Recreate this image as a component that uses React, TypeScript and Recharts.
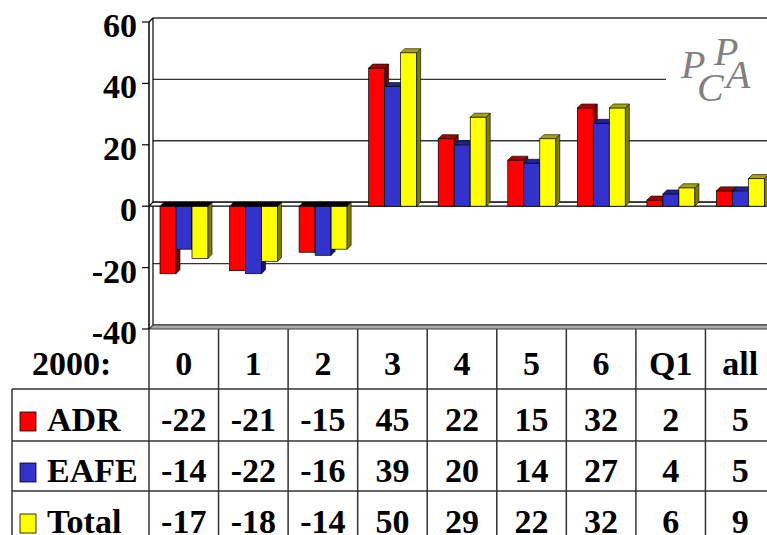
import React from "react";
import {
  Bar,
  BarChart,
  CartesianGrid,
  ReferenceLine,
  XAxis,
  YAxis,
} from "recharts";

const periods = ["0", "1", "2", "3", "4", "5", "6", "Q1", "all"];
const adr = [-22, -21, -15, 45, 22, 15, 32, 2, 5];
const eafe = [-14, -22, -16, 39, 20, 14, 27, 4, 5];
const total = [-17, -18, -14, 50, 29, 22, 32, 6, 9];
const yTicks = [-40, -20, 0, 20, 40, 60];

const rowLabel = "2000:";
const seriesNames = ["ADR", "EAFE", "Total"];

const chartData = periods.map((p, i) => ({
  period: p,
  adr: adr[i],
  eafe: eafe[i],
  total: total[i],
}));

// layout
const CHART_W = 775;
const CHART_H = 560;
const TOP = 22;
const PLOT_BOTTOM = 329;
const LEFT = 149;
const COL_W = (CHART_W - LEFT) / periods.length;
const D = 4; // depth of the 3d effect
const FONT = "Liberation Serif";
const LINE = "#333";
const FS = 34;

const HEADER_BASE = 375;
const ROW_BASES = [431, 482, 533];
const ROW_LINES = [389, 441, 491];

const FACES = {
  adr: { front: "#ff0000", side: "#7a0000", top: "#a80000" },
  eafe: { front: "#3333cc", side: "#16165e", top: "#222290" },
  total: { front: "#ffff00", side: "#7d7d00", top: "#a5a500" },
};
const seriesData = [adr, eafe, total];

function make3dBar(faces: { front: string; side: string; top: string }) {
  return (props: any) => {
    const { x, y, width, height, value } = props;
    const v = Array.isArray(value) ? value[1] : value;
    const t = Math.min(y, y + height);
    const b = Math.max(y, y + height);
    const w = width;
    const neg = v < 0;
    return (
      <g>
        <rect x={x} y={t} width={w} height={b - t} fill={faces.front} stroke="#000" strokeWidth={0.7} />
        <polygon
          points={`${x + w},${t} ${x + w + D},${t - D} ${x + w + D},${b - D} ${x + w},${b}`}
          fill={faces.side}
          stroke="#000"
          strokeWidth={0.6}
        />
        <polygon
          points={`${x},${t} ${x + D},${t - D} ${x + w + D},${t - D} ${x + w},${t}`}
          fill={neg ? "#000" : faces.top}
          stroke="#000"
          strokeWidth={0.6}
        />
      </g>
    );
  };
}

const backGridLine = (p: any) => {
  const { x1, x2, y1, index } = p;
  return (
    <g key={`bg-${index}`}>
      <line x1={x1 + D} x2={x2} y1={y1 - D} y2={y1 - D} stroke={LINE} strokeWidth={1.4} />
      {Math.abs(y1 - TOP) < 1 && (
        <>
          <line x1={x1} y1={y1} x2={x1 + D} y2={y1 - D} stroke="#000" strokeWidth={1.2} />
          <line x1={x1 + D} x2={x1 + D} y1={TOP - D} y2={PLOT_BOTTOM - D} stroke="#000" strokeWidth={1.2} />
        </>
      )}
    </g>
  );
};

const ZeroSlab = (p: any) => {
  const { x1, x2, y1 } = p;
  return (
    <polygon
      points={`${x1},${y1} ${x1 + D},${y1 - D} ${x2},${y1 - D} ${x2},${y1}`}
      fill="#fff"
      stroke="#000"
      strokeWidth={1.2}
    />
  );
};

const FloorSlab = (p: any) => {
  const { x1, x2, y1 } = p;
  return (
    <polygon
      points={`${x1},${y1} ${x1 + D},${y1 - D} ${x2},${y1 - D} ${x2},${y1}`}
      fill="#a8a8a8"
      stroke="#444"
      strokeWidth={1.2}
    />
  );
};

function TableTick(props: any) {
  const { x, payload } = props;
  const i = payload?.index ?? props.index ?? 0;
  const left = x - COL_W / 2;
  const txt = { textAnchor: "middle" as const, fontSize: FS, fontWeight: 700, fontFamily: FONT, fill: "#000" };
  return (
    <g>
      <line x1={left} x2={left} y1={PLOT_BOTTOM} y2={CHART_H} stroke={LINE} strokeWidth={1.5} />
      {i === periods.length - 1 && (
        <line x1={left + COL_W} x2={left + COL_W} y1={PLOT_BOTTOM} y2={CHART_H} stroke={LINE} strokeWidth={1.5} />
      )}
      <text x={x} y={HEADER_BASE} {...txt}>
        {payload.value}
      </text>
      {seriesData.map((s, r) => (
        <text key={r} x={x} y={ROW_BASES[r]} {...txt}>
          {s[i]}
        </text>
      ))}
    </g>
  );
}

function Overlay() {
  const txt = { fontSize: FS, fontWeight: 700, fontFamily: FONT, fill: "#000" };
  const logo = { fontFamily: FONT, fontStyle: "italic" as const, fontSize: 40, fill: "#808080" };
  const swatches = [FACES.adr.front, FACES.eafe.front, FACES.total.front];
  return (
    <svg
      width={CHART_W}
      height={CHART_H}
      style={{ position: "absolute", left: 0, top: 0, pointerEvents: "none" }}
    >
      <rect x={666} y={32} width={110} height={76} fill="#fff" />
      <text x={681} y={78} {...logo}>P</text>
      <text x={697} y={101} {...logo}>C</text>
      <text x={714} y={65} {...logo}>P</text>
      <text x={726} y={88} {...logo}>A</text>

      <text x={32} y={HEADER_BASE} {...txt}>{rowLabel}</text>
      {ROW_LINES.map((y) => (
        <line key={y} x1={12} x2={CHART_W} y1={y} y2={y} stroke={LINE} strokeWidth={1.5} />
      ))}
      <line x1={12} x2={12} y1={ROW_LINES[0]} y2={CHART_H} stroke={LINE} strokeWidth={1.5} />
      {seriesNames.map((n, r) => (
        <g key={n}>
          <rect x={20} y={ROW_BASES[r] - 19} width={16} height={19} fill={swatches[r]} stroke="#000" strokeWidth={0.8} />
          <text x={47} y={ROW_BASES[r]} {...txt}>{n}</text>
        </g>
      ))}
    </svg>
  );
}

export default function App() {
  return (
    <div
      style={{
        position: "fixed",
        left: 0,
        top: 0,
        width: 767,
        height: 535,
        overflow: "hidden",
        background: "#fff",
        fontFamily: FONT,
      }}
    >
      <div style={{ position: "relative", width: CHART_W, height: CHART_H }}>
        <BarChart
          width={CHART_W}
          height={CHART_H}
          data={chartData}
          margin={{ top: TOP, right: 0, bottom: 0, left: 0 }}
          barCategoryGap={11}
          barGap={0}
          style={{ fontFamily: FONT }}
        >
          <CartesianGrid vertical={false} horizontal={backGridLine} />
          <ReferenceLine y={-40} shape={FloorSlab} zIndex={-50} />
          <ReferenceLine y={0} shape={ZeroSlab} zIndex={-50} />
          <YAxis
            width={LEFT}
            domain={[-40, 60]}
            ticks={yTicks}
            interval={0}
            axisLine={{ stroke: "#000", strokeWidth: 1.5 }}
            tickLine={{ stroke: "#000", strokeWidth: 1.2 }}
            tickSize={7}
            tickMargin={5}
            tick={{ fontSize: FS, fontWeight: 700, fill: "#000", fontFamily: FONT, dy: 3 }}
          />
          <XAxis
            dataKey="period"
            height={CHART_H - PLOT_BOTTOM}
            axisLine={false}
            tickLine={false}
            interval={0}
            tick={<TableTick />}
          />
          <Bar dataKey="adr" isAnimationActive={false} shape={make3dBar(FACES.adr)} />
          <Bar dataKey="eafe" isAnimationActive={false} shape={make3dBar(FACES.eafe)} />
          <Bar dataKey="total" isAnimationActive={false} shape={make3dBar(FACES.total)} />
        </BarChart>
        <Overlay />
      </div>
    </div>
  );
}
